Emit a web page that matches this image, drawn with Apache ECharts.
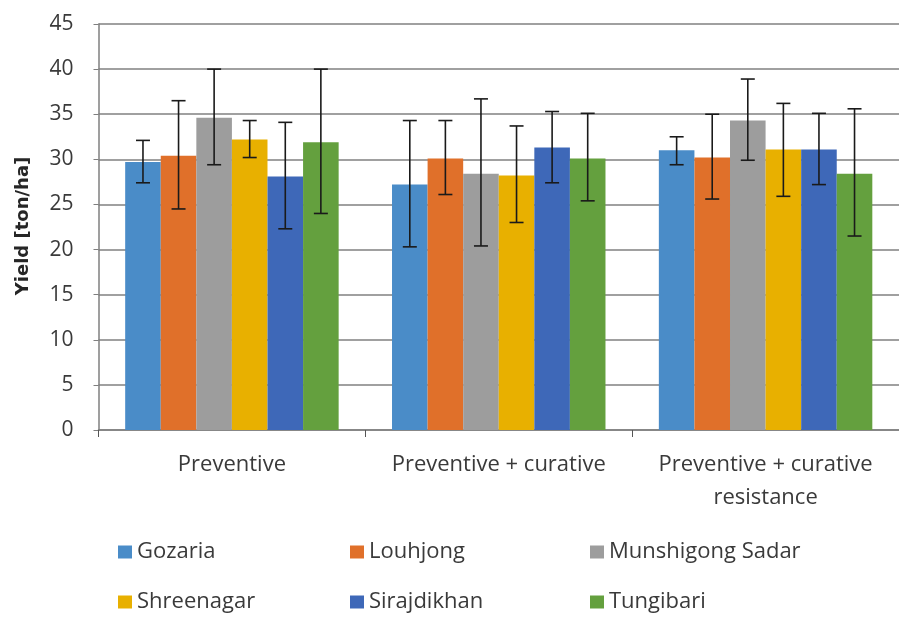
<!DOCTYPE html>
<html>
<head>
<meta charset="utf-8">
<script src="https://cdn.jsdelivr.net/npm/echarts@6/dist/echarts.min.js"></script>
<style>
html,body{margin:0;padding:0;background:#fff;}
#chart{width:899px;height:622px;}
</style>
</head>
<body>
<div id="chart"></div>
<script>
var categories = ['Preventive', 'Preventive + curative', 'Preventive + curative\nresistance'];
var locations = ['Gozaria', 'Louhjong', 'Munshigong Sadar', 'Shreenagar', 'Sirajdikhan', 'Tungibari'];
var yTicks = [0, 5, 10, 15, 20, 25, 30, 35, 40, 45];

var gozaria     = [29.7, 27.2, 31.0];
var louhjong    = [30.4, 30.1, 30.2];
var munshigong  = [34.6, 28.4, 34.3];
var shreenagar  = [32.2, 28.2, 31.1];
var sirajdikhan = [28.1, 31.3, 31.1];
var tungibari   = [31.9, 30.1, 28.4];

var gozariaLow = [27.4, 20.3, 29.4],     gozariaHigh = [32.1, 34.3, 32.5];
var louhjongLow = [24.5, 26.1, 25.6],    louhjongHigh = [36.5, 34.3, 35.0];
var munshigongLow = [29.4, 20.4, 29.9],  munshigongHigh = [40.0, 36.7, 38.9];
var shreenagarLow = [30.2, 23.0, 25.9],  shreenagarHigh = [34.3, 33.7, 36.2];
var sirajdikhanLow = [22.3, 27.4, 27.2], sirajdikhanHigh = [34.1, 35.3, 35.1];
var tungibariLow = [24.0, 25.4, 21.5],   tungibariHigh = [40.0, 35.1, 35.6];

var values = [gozaria, louhjong, munshigong, shreenagar, sirajdikhan, tungibari];
var lows = [gozariaLow, louhjongLow, munshigongLow, shreenagarLow, sirajdikhanLow, tungibariLow];
var highs = [gozariaHigh, louhjongHigh, munshigongHigh, shreenagarHigh, sirajdikhanHigh, tungibariHigh];
var colors = ['#4a8cc8', '#e0702a', '#9d9d9d', '#e8b000', '#3e68b8', '#64a03e'];

var FONT = 'Open Sans';
var nSeries = locations.length;
var groupFrac = 0.8;

var series = [];
values.forEach(function (vals, i) {
  series.push({
    name: locations[i],
    type: 'bar',
    data: vals,
    barGap: '0%',
    barCategoryGap: '20%',
    itemStyle: { color: colors[i] },
    z: 2
  });
});
values.forEach(function (vals, i) {
  var errData = categories.map(function (c, k) { return [k, lows[i][k], highs[i][k]]; });
  series.push({
    name: locations[i] + ' err',
    type: 'custom',
    data: errData,
    z: 5,
    renderItem: function (params, api) {
      var k = api.value(0);
      var lo = api.coord([k, api.value(1)]);
      var hi = api.coord([k, api.value(2)]);
      var bw = api.size([1, 0])[0];
      var barW = bw * groupFrac / nSeries;
      var x = lo[0] - bw * groupFrac / 2 + (i + 0.5) * barW;
      var cap = 7;
      var st = { stroke: '#1a1a1a', lineWidth: 1.6 };
      return {
        type: 'group',
        children: [
          { type: 'line', shape: { x1: x, y1: hi[1], x2: x, y2: lo[1] }, style: st },
          { type: 'line', shape: { x1: x - cap, y1: hi[1], x2: x + cap, y2: hi[1] }, style: st },
          { type: 'line', shape: { x1: x - cap, y1: lo[1], x2: x + cap, y2: lo[1] }, style: st }
        ]
      };
    },
    encode: { x: 0, y: [1, 2] }
  });
});

function legendCol(names, left) {
  return {
    orient: 'vertical',
    left: left,
    top: 541,
    padding: 0,
    itemWidth: 14,
    itemHeight: 13,
    itemGap: 28,
    icon: 'rect',
    data: names,
    textStyle: { fontFamily: FONT, fontSize: 22, color: '#3a3a3a' }
  };
}

var chart = echarts.init(document.getElementById('chart'));
chart.setOption({
  animation: false,
  color: colors,
  grid: { left: 98.5, width: 808, top: 24, bottom: 192 },
  xAxis: {
    type: 'category',
    data: categories,
    axisLine: { lineStyle: { color: '#7f7f7f', width: 1.5 } },
    axisTick: { show: true, length: 7, lineStyle: { color: '#555' } },
    axisLabel: {
      fontFamily: FONT, fontSize: 22, color: '#3a3a3a', margin: 18, lineHeight: 33,
      interval: 0
    }
  },
  yAxis: {
    type: 'value',
    min: 0, max: 45, interval: 5,
    axisLine: { show: true, lineStyle: { color: '#7f7f7f', width: 1.5 } },
    axisTick: { show: true, length: 5, lineStyle: { color: '#7f7f7f' } },
    splitLine: { lineStyle: { color: '#808080', width: 1.5 } },
    axisLabel: {
      fontFamily: FONT, fontSize: 21, color: '#3a3a3a', margin: 25,
      formatter: function (v) { return yTicks.indexOf(v) >= 0 ? String(v) : ''; }
    }
  },
  legend: [
    legendCol([locations[0], locations[3]], 118),
    legendCol([locations[1], locations[4]], 350),
    legendCol([locations[2], locations[5]], 590)
  ],
  graphic: [{
    type: 'text',
    x: 23, y: 226,
    rotation: Math.PI / 2,
    style: {
      text: 'Yield [ton/ha]',
      fontFamily: 'DejaVu Sans', fontSize: 18, fontWeight: 'bold', fill: '#262626',
      textAlign: 'center', textVerticalAlign: 'middle'
    }
  }],
  series: series
});
</script>
</body>
</html>
